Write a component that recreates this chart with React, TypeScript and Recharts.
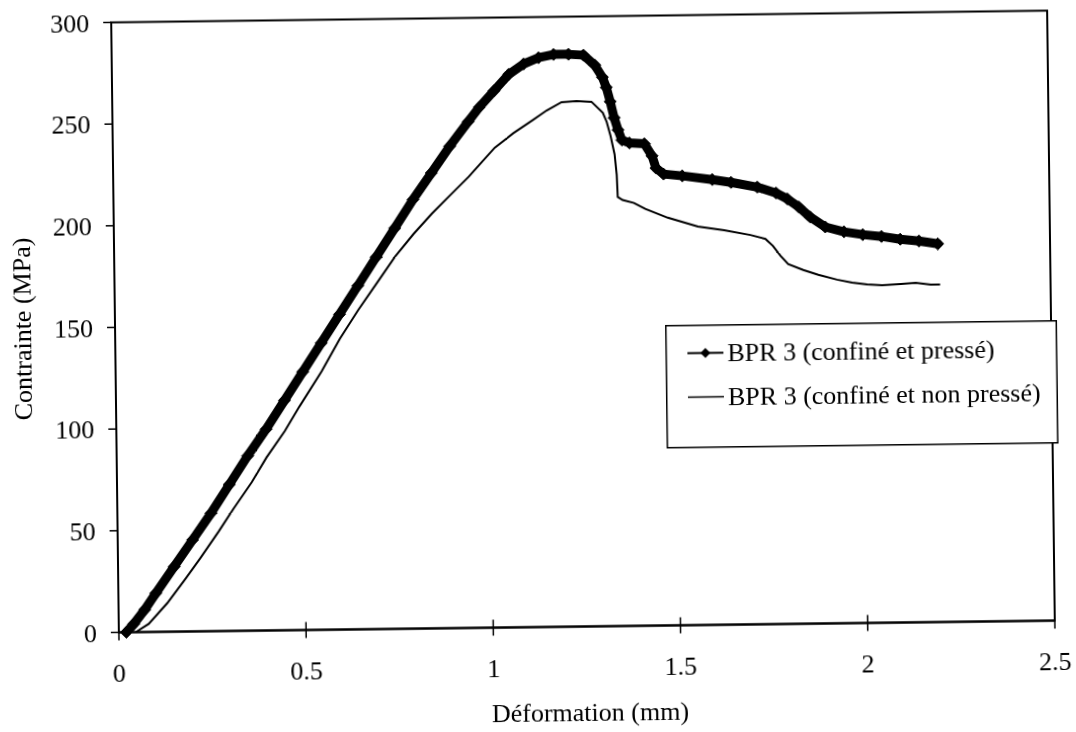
import React from 'react';
import { LineChart, Line, XAxis, YAxis, ReferenceArea, Legend, Label } from 'recharts';

const FONT = '"Liberation Serif", "Times New Roman", Times, serif';

const xTicks = [0, 0.5, 1, 1.5, 2, 2.5];
const yTicks = [0, 50, 100, 150, 200, 250, 300];

const seriesNames = ['BPR 3 (confiné et pressé)', 'BPR 3 (confiné et non pressé)'];
const xTitle = 'Déformation (mm)';
const yTitle = 'Contrainte (MPa)';

const presseX = [0.02, 0.04, 0.07, 0.1, 0.15, 0.2, 0.25, 0.3, 0.35, 0.4, 0.45, 0.5, 0.55, 0.6, 0.65, 0.7, 0.75, 0.8, 0.85, 0.9, 0.95, 0.98, 1.02, 1.06, 1.1, 1.14, 1.18, 1.22, 1.26, 1.29, 1.31, 1.32, 1.33, 1.34, 1.35, 1.36, 1.38, 1.42, 1.44, 1.45, 1.47, 1.52, 1.6, 1.65, 1.72, 1.77, 1.8, 1.83, 1.86, 1.9, 1.95, 2.0, 2.05, 2.1, 2.15, 2.2];
const presseY = [0, 4, 11, 19, 32, 45, 58, 72, 86, 99, 113, 127, 141, 155, 169, 183, 197, 211, 224, 237, 249, 256, 264, 272, 277, 280, 281.5, 281.5, 281, 276, 270, 265, 258, 250, 244, 239, 237.5, 237, 231, 225, 222, 221, 219, 217.5, 215, 212, 209, 205, 200, 195, 192.5, 191, 190, 188.5, 187.5, 186];

const nonPresseX = [0.045, 0.08, 0.13, 0.18, 0.22, 0.27, 0.31, 0.36, 0.4, 0.45, 0.49, 0.55, 0.6, 0.65, 0.7, 0.75, 0.8, 0.85, 0.9, 0.95, 0.98, 1.02, 1.07, 1.12, 1.16, 1.2, 1.24, 1.28, 1.31, 1.32, 1.33, 1.34, 1.345, 1.347, 1.36, 1.39, 1.42, 1.48, 1.56, 1.63, 1.7, 1.74, 1.76, 1.78, 1.8, 1.84, 1.88, 1.93, 1.97, 2.01, 2.05, 2.1, 2.14, 2.18, 2.205];
const nonPresseY = [0, 4, 14, 26, 36, 49, 60, 73, 85, 98, 110, 127, 143, 157, 170, 183, 194, 204, 213, 222, 228, 236, 243, 249, 254, 258, 258.5, 258, 252.5, 248, 241, 232, 222, 211, 209.5, 208, 205, 200.5, 196, 194, 191.5, 189.5, 186, 181, 177, 174, 171.5, 169, 167.5, 166.5, 166, 166.5, 167, 166, 166];

const presseData = presseX.map((x, i) => ({ x, y: presseY[i] }));
const nonPresseData = nonPresseX.map((x, i) => ({ x, y: nonPresseY[i] }));

const TICK_SIZE_X = 8;
const TICK_MARGIN_X = 23;

const XTick = (props: any) => {
  const { x, y, payload } = props;
  const axisY = y - TICK_SIZE_X - TICK_MARGIN_X;
  return (
    <g>
      <line x1={x} x2={x} y1={axisY - 8} y2={axisY + 8} stroke="#000" strokeWidth={1.5} />
      <text x={x} y={y} dy="0.71em" textAnchor="middle" fontSize={26} fontFamily={FONT} fill="#000">
        {String(payload.value)}
      </text>
    </g>
  );
};

const Diamond = (props: any) => {
  const { cx, cy, index } = props;
  if (cx == null || cy == null) return <g key={index} />;
  const r = 6;
  return (
    <polygon
      key={index}
      points={`${cx},${cy - r} ${cx + r},${cy} ${cx},${cy + r} ${cx - r},${cy}`}
      fill="#000"
      stroke="#000"
    />
  );
};

const renderLegend = () => (
  <svg width={392} height={124} style={{ display: 'block' }}>
    <rect x={0.75} y={0.75} width={390.5} height={122} fill="#fff" stroke="#000" strokeWidth={1.5} />
    <line x1={22} x2={58} y1={28.5} y2={28.5} stroke="#000" strokeWidth={2} />
    <polygon points="40,23.5 45,28.5 40,33.5 35,28.5" fill="#000" />
    <text x={62} y={28.5} dominantBaseline="central" fontSize={26} fontFamily={FONT} fill="#000">
      {seriesNames[0]}
    </text>
    <line x1={22} x2={58} y1={72.5} y2={72.5} stroke="#000" strokeWidth={1.5} />
    <text x={62} y={72.5} dominantBaseline="central" fontSize={26} fontFamily={FONT} fill="#000">
      {seriesNames[1]}
    </text>
  </svg>
);

export default function App() {
  return (
    <div
      style={{
        position: 'fixed',
        left: 0,
        top: 0,
        width: 1076,
        height: 732,
        background: '#fff',
        transformOrigin: '583px 321.5px',
        transform: 'rotate(-0.72deg)',
      }}
    >
      <LineChart
        width={1076}
        height={732}
        margin={{ top: 16.5, right: 25, left: 55, bottom: 45.5 }}
        style={{ fontFamily: FONT }}
      >
        <ReferenceArea x1={0} x2={2.5} y1={0} y2={300} fill="none" stroke="#000" strokeWidth={2} />
        <XAxis
          type="number"
          dataKey="x"
          domain={[0, 2.5]}
          ticks={xTicks}
          allowDataOverflow
          height={60}
          axisLine={{ stroke: '#000', strokeWidth: 2 }}
          tickLine={false}
          tickSize={TICK_SIZE_X}
          tickMargin={TICK_MARGIN_X}
          tick={<XTick />}
        >
          <Label
            content={() => (
              <text x={585.5} y={712} textAnchor="middle" dominantBaseline="central" fontSize={26} fontFamily={FONT} fill="#000">
                {xTitle}
              </text>
            )}
          />
        </XAxis>
        <YAxis
          type="number"
          dataKey="y"
          domain={[0, 300]}
          ticks={yTicks}
          width={60}
          axisLine={{ stroke: '#000', strokeWidth: 2 }}
          tickLine={{ stroke: '#000', strokeWidth: 1.5 }}
          tickSize={8}
          tickMargin={14}
          tick={{ fontSize: 26, fontFamily: FONT, fill: '#000' }}
        >
          <Label
            content={() => (
              <text
                x={22}
                y={322}
                transform="rotate(-90, 22, 322)"
                textAnchor="middle"
                dominantBaseline="central"
                fontSize={26}
                fontFamily={FONT}
                fill="#000"
              >
                {yTitle}
              </text>
            )}
          />
        </YAxis>
        <Line
          data={nonPresseData}
          dataKey="y"
          name={seriesNames[1]}
          type="linear"
          stroke="#000"
          strokeWidth={2}
          dot={false}
          activeDot={false}
          isAnimationActive={false}
        />
        <Line
          data={presseData}
          dataKey="y"
          name={seriesNames[0]}
          type="linear"
          stroke="#000"
          strokeWidth={9}
          strokeLinejoin="round"
          strokeLinecap="round"
          dot={<Diamond />}
          activeDot={false}
          isAnimationActive={false}
        />
        <Legend
          layout="vertical"
          align="center"
          verticalAlign="middle"
          content={renderLegend}
          wrapperStyle={{ position: 'absolute', left: 665, top: 326, width: 392, height: 124 }}
        />
      </LineChart>
    </div>
  );
}
